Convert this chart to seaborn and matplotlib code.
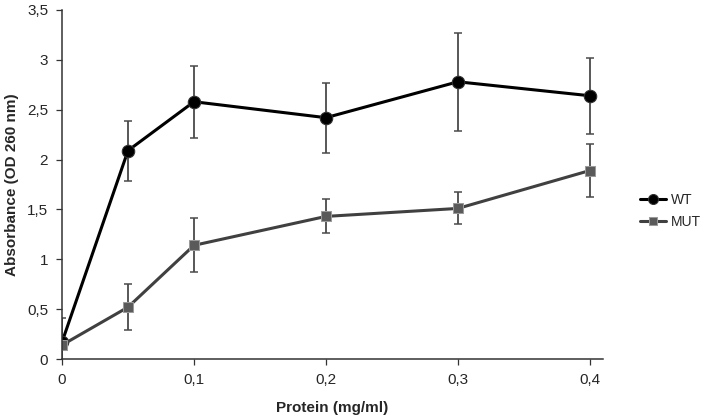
import pandas as pd
import seaborn as sns
import matplotlib.pyplot as plt
from matplotlib.ticker import FuncFormatter

# Values
protein = [0, 0.05, 0.1, 0.2, 0.3, 0.4]
wt_mean = [0.17, 2.09, 2.58, 2.42, 2.78, 2.64]
wt_err = [0.24, 0.30, 0.36, 0.35, 0.49, 0.38]
mut_mean = [0.14, 0.52, 1.14, 1.43, 1.51, 1.89]
mut_err = [0.0, 0.23, 0.27, 0.17, 0.16, 0.27]

df = pd.concat([
    pd.DataFrame({'protein': protein, 'abs': wt_mean, 'err': wt_err, 'group': 'WT'}),
    pd.DataFrame({'protein': protein, 'abs': mut_mean, 'err': mut_err, 'group': 'MUT'}),
])

sns.set_style('ticks')
plt.rcParams['font.family'] = ['Liberation Sans', 'DejaVu Sans']

fig = plt.figure(figsize=(7.09, 4.16), dpi=100)
ax = fig.add_axes([0.0875, 0.137, 0.763, 0.839])

colors = {'WT': '#000000', 'MUT': '#404040'}
# error bars first so markers sit on top
for g, sub in df.groupby('group'):
    ax.errorbar(sub['protein'], sub['abs'], yerr=sub['err'], fmt='none',
                ecolor='#4a4a4a', elinewidth=1.3, capsize=3, capthick=1.1, zorder=1)

sns.lineplot(data=df, x='protein', y='abs', hue='group', style='group',
             hue_order=['WT', 'MUT'], style_order=['WT', 'MUT'],
             palette=colors, markers={'WT': 'o', 'MUT': 's'}, dashes=False,
             linewidth=2.2, ax=ax, zorder=2)


def restyle(line):
    if line.get_marker() == 'o':
        line.set_markerfacecolor('#000000')
        line.set_markeredgecolor('#333333')
        line.set_markersize(9)
    elif line.get_marker() == 's':
        line.set_markerfacecolor('#5a5a5a')
        line.set_markeredgecolor('#9a9a9a')
        line.set_markersize(7)


for line in ax.get_lines():
    restyle(line)

ax.set_xlim(0, 0.41)
ax.set_ylim(0, 3.5)
ax.set_xticks([0, 0.1, 0.2, 0.3, 0.4])
ax.set_yticks([0, 0.5, 1, 1.5, 2, 2.5, 3, 3.5])
comma = FuncFormatter(lambda v, p: ('%g' % round(v, 2)).replace('.', ','))
ax.xaxis.set_major_formatter(comma)
ax.yaxis.set_major_formatter(comma)
ax.tick_params(labelsize=11, length=4, width=0.9, color='#333333', pad=6)
for s in ['left', 'bottom']:
    ax.spines[s].set_linewidth(1.1)
    ax.spines[s].set_color('#333333')
sns.despine(ax=ax)

ax.set_xlabel('Protein (mg/ml)', fontsize=11, fontweight='bold', labelpad=10)
ax.set_ylabel('Absorbance (OD 260 nm)', fontsize=11, fontweight='bold', labelpad=6)

handles, labels = ax.get_legend_handles_labels()
ax.get_legend().remove()
leg = fig.legend(handles, labels, loc='center left', bbox_to_anchor=(0.893, 0.493),
                 frameon=False, fontsize=10, handlelength=1.9, handletextpad=0.3,
                 borderpad=0, labelspacing=0.6)
for h in leg.get_lines():
    restyle(h)
    h.set_markersize(h.get_markersize() * 0.8)

plt.savefig('out.png', dpi=100)
plt.close()
